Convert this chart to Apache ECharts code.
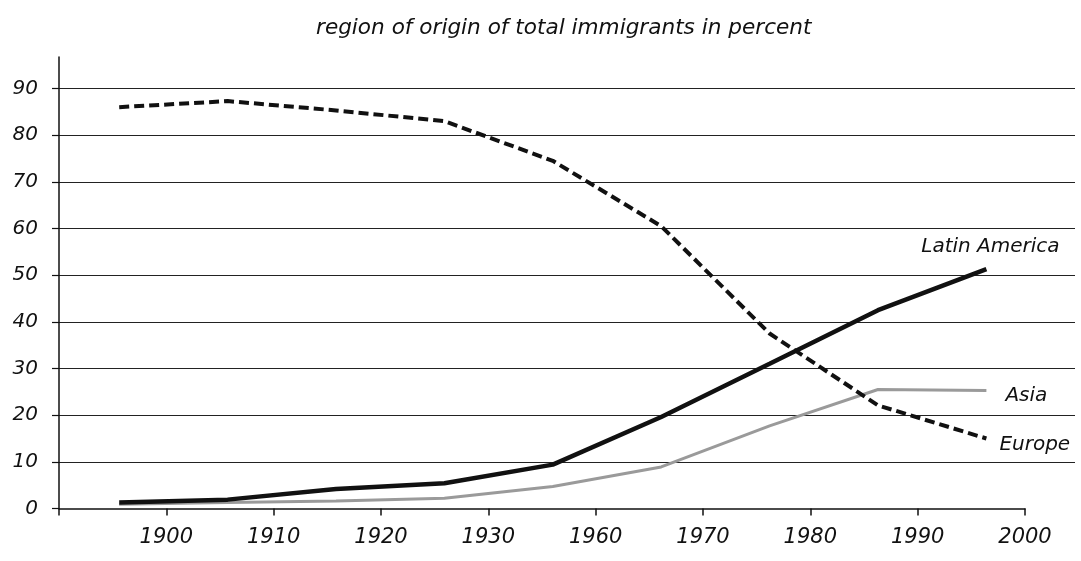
<!DOCTYPE html>
<html>
<head>
<meta charset="utf-8">
<script src="https://cdn.jsdelivr.net/npm/echarts@6/dist/echarts.min.js"></script>
<style>
html,body{margin:0;padding:0;background:#fff;}
#c{width:1081px;height:561px;}
</style>
</head>
<body>
<div id="c"></div>
<script>
// ---- data ----
const categories = ['1890s', '1900s', '1910s', '1920s', '1950s', '1960s', '1970s', '1980s', '1990s'];
const tickLabels = ['1900', '1910', '1920', '1930', '1960', '1970', '1980', '1990', '2000'];
const europe = [86, 87.3, 85.3, 83, 74.5, 60.5, 37.5, 22.1, 15];
const latinAmerica = [1.3, 1.9, 4.2, 5.4, 9.4, 19.6, 31, 42.5, 51.3];
const asia = [0.9, 1.3, 1.6, 2.2, 4.7, 8.9, 17.7, 25.5, 25.3];
const titleText = 'region of origin of total immigrants in percent';

const FONT = '"DejaVu Sans", sans-serif';
const INK = '#111';

function endLabel(values, cfg) {
  return values.map(function (v, i) {
    if (i !== values.length - 1) return v;
    return {
      value: v,
      label: Object.assign({
        show: true,
        fontFamily: FONT,
        fontStyle: 'italic',
        fontSize: 20,
        color: INK
      }, cfg)
    };
  });
}

const chart = echarts.init(document.getElementById('c'), null, { renderer: 'canvas' });

const option = {
  backgroundColor: '#fff',
  animation: false,
  title: {
    text: titleText,
    left: 311,
    top: 12,
    textStyle: { fontFamily: FONT, fontStyle: 'italic', fontWeight: 'normal', fontSize: 21.6, color: INK }
  },
  grid: [
    { left: 59, right: 6, top: 88.5, bottom: 52.5 },
    { left: 59, right: 56, top: 57, bottom: 52.5 },
    { left: 65, right: 40.4, top: 88.5, bottom: 52.5 }
  ],
  xAxis: [
    { gridIndex: 0, type: 'value', min: 0, max: 1, show: false },
    {
      gridIndex: 1, type: 'value', min: 0, max: 9, interval: 1,
      axisLine: { show: true, lineStyle: { color: INK, width: 1.5 } },
      axisTick: { show: true, length: 7, lineStyle: { color: INK, width: 1.5 } },
      axisLabel: {
        margin: 19,
        formatter: function (v) { return tickLabels[v - 1] || ''; },
        fontFamily: FONT, fontStyle: 'italic', fontSize: 21, color: INK
      },
      splitLine: { show: false }
    },
    { gridIndex: 2, type: 'category', data: categories, boundaryGap: true, show: false }
  ],
  yAxis: [
    {
      gridIndex: 0, type: 'value', min: 0, max: 90, interval: 10,
      axisLine: { show: false },
      axisTick: { show: true, length: 7, lineStyle: { color: INK, width: 1.2 } },
      axisLabel: { margin: 21, fontFamily: FONT, fontStyle: 'italic', fontSize: 20, color: INK },
      splitLine: { show: true, showMinLine: false, lineStyle: { color: '#222', width: 1.2 } }
    },
    {
      gridIndex: 1, type: 'value', min: 0, max: 96.7,
      axisLine: { show: true, lineStyle: { color: INK, width: 1.5 } },
      axisTick: { show: false }, axisLabel: { show: false }, splitLine: { show: false }
    },
    { gridIndex: 2, type: 'value', min: 0, max: 90, show: false }
  ],
  series: [
    {
      name: 'Asia', type: 'line', xAxisIndex: 2, yAxisIndex: 2,
      data: endLabel(asia, { position: 'right', distance: 19, offset: [0, 5], formatter: 'Asia' }),
      symbol: 'circle', symbolSize: 0, z: 2,
      lineStyle: { color: '#9a9a9a', width: 3 }
    },
    {
      name: 'Latin America', type: 'line', xAxisIndex: 2, yAxisIndex: 2,
      data: endLabel(latinAmerica, { position: 'top', distance: 12, offset: [4, 0], formatter: 'Latin America' }),
      symbol: 'circle', symbolSize: 0, z: 3,
      lineStyle: { color: INK, width: 4.5 }
    },
    {
      name: 'Europe', type: 'line', xAxisIndex: 2, yAxisIndex: 2,
      data: endLabel(europe, { position: 'right', distance: 13, offset: [0, 6], formatter: 'Europe' }),
      symbol: 'circle', symbolSize: 0, z: 4,
      lineStyle: { color: INK, width: 4, type: [10, 5], cap: 'butt' }
    }
  ]
};

chart.setOption(option);
</script>
</body>
</html>
